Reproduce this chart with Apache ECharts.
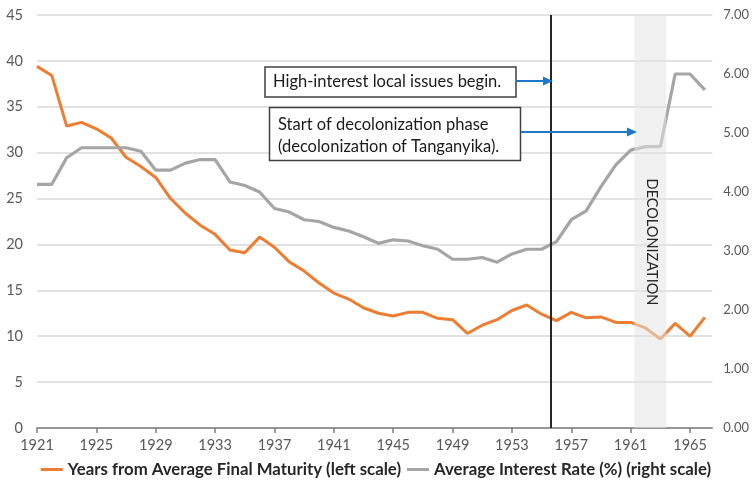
<!DOCTYPE html>
<html><head><meta charset="utf-8">
<script src="https://cdn.jsdelivr.net/npm/echarts@6/dist/echarts.min.js"></script>
<style>html,body{margin:0;padding:0;background:#fff}#c{width:752px;height:485px}</style>
</head><body><div id="c"></div>
<script>
const years = [1921,1922,1923,1924,1925,1926,1927,1928,1929,1930,1931,1932,1933,1934,1935,1936,1937,1938,1939,1940,1941,1942,1943,1944,1945,1946,1947,1948,1949,1950,1951,1952,1953,1954,1955,1956,1957,1958,1959,1960,1961,1962,1963,1964,1965,1966];
const maturity = [39.4,38.4,32.9,33.3,32.6,31.6,29.5,28.5,27.3,25.0,23.4,22.1,21.1,19.4,19.1,20.8,19.7,18.1,17.1,15.8,14.7,14.05,13.1,12.5,12.2,12.6,12.6,11.95,11.8,10.3,11.2,11.8,12.8,13.4,12.4,11.7,12.6,12.0,12.1,11.5,11.5,10.9,9.7,11.4,10.0,12.05];
const interest = [4.13,4.13,4.58,4.75,4.75,4.75,4.75,4.69,4.37,4.37,4.49,4.55,4.55,4.17,4.11,4.00,3.72,3.66,3.53,3.50,3.40,3.34,3.24,3.13,3.19,3.17,3.09,3.03,2.86,2.86,2.89,2.81,2.95,3.03,3.03,3.16,3.53,3.68,4.09,4.46,4.71,4.77,4.77,6.00,6.00,5.73];
const seriesNames = ['Years from Average Final Maturity (left scale)','Average Interest Rate (%) (right scale)'];
const baseYear = 1921;
const highInterestYear = 1955.63;
const decolStart = 1961.25, decolEnd = 1963.4;

const F = 'Lato, "Open Sans", sans-serif';
const matData = years.map((y,i)=>[y-baseYear, maturity[i]]);
const intData = years.map((y,i)=>[y-baseYear, interest[i]]);

const chart = echarts.init(document.getElementById('c'));
chart.setOption({
  animation:false,
  textStyle:{fontFamily:F},
  grid:{left:37,right:38,top:15,bottom:57,containLabel:false},
  legend:{
    data:seriesNames, bottom:2, left:'center', icon:'rect', itemWidth:22, itemHeight:3, itemGap:6,
    textStyle:{fontFamily:F,fontSize:16.8,fontWeight:'bold',color:'#262626'}
  },
  xAxis:{
    type:'value', min:0, max:45.5, interval:4,
    axisLine:{show:true,lineStyle:{color:'#7f7f7f',width:1.5}},
    axisTick:{show:true,length:5,lineStyle:{color:'#7f7f7f',width:1.5}},
    splitLine:{show:false},
    axisLabel:{formatter:v=>String(v+baseYear),showMaxLabel:false,color:'#595959',fontSize:14.5,margin:10,fontFamily:F}
  },
  yAxis:[
    {type:'value',min:0,max:45,interval:5,
     axisLine:{show:false},axisTick:{show:false},
     splitLine:{lineStyle:{color:'#d9d9d9',width:1.5}},
     axisLabel:{color:'#595959',fontSize:14.5,margin:14,fontFamily:F}},
    {type:'value',min:0,max:7,interval:1,position:'right',
     axisLine:{show:false},axisTick:{show:false},splitLine:{show:false},
     axisLabel:{color:'#595959',fontSize:13,margin:11,formatter:v=>v.toFixed(2),fontFamily:F}}
  ],
  series:[
    {name:seriesNames[0],type:'line',yAxisIndex:0,data:matData,symbol:'none',
     lineStyle:{color:'#ED7D31',width:3},itemStyle:{color:'#ED7D31'},z:2},
    {name:seriesNames[1],type:'line',yAxisIndex:1,data:intData,symbol:'none',
     lineStyle:{color:'#A5A5A5',width:3.2},itemStyle:{color:'#A5A5A5'},z:3},
    {name:'marker',type:'line',yAxisIndex:0,data:[],z:5,silent:true,
     markLine:{silent:true,symbol:'none',label:{show:false},
       lineStyle:{color:'#262626',width:2,type:'solid'},
       data:[{xAxis:highInterestYear-baseYear}]}}
  ]
});

const x0 = chart.convertToPixel({xAxisIndex:0}, decolStart-baseYear);
const x1 = chart.convertToPixel({xAxisIndex:0}, decolEnd-baseYear);
const yTop = chart.convertToPixel({yAxisIndex:0}, 45);
const yBot = chart.convertToPixel({yAxisIndex:0}, 0);

chart.setOption({
  graphic:[
    {type:'rect',shape:{x:x0,y:yTop,width:x1-x0,height:yBot-yTop},style:{fill:'rgba(228,228,228,0.55)'},z:5,silent:true},
    {type:'rect',shape:{x:265,y:67,width:251,height:30},style:{fill:'#fff',stroke:'#404040',lineWidth:1.5},z:10},
    {type:'text',x:273,y:82,style:{text:'High-interest local issues begin.',font:'16.5px '+F,fill:'#1a1a1a',verticalAlign:'middle'},z:11},
    {type:'rect',shape:{x:269.5,y:107.5,width:251,height:53},style:{fill:'#fff',stroke:'#404040',lineWidth:1.5},z:10},
    {type:'text',x:278,y:125,style:{text:'Start of decolonization phase',font:'16.5px '+F,fill:'#1a1a1a',verticalAlign:'middle'},z:11},
    {type:'text',x:278,y:146.5,style:{text:'(decolonization of Tanganyika).',font:'16.5px '+F,fill:'#1a1a1a',verticalAlign:'middle'},z:11},
    {type:'line',shape:{x1:516,y1:81,x2:545,y2:81},style:{stroke:'#1f78c8',lineWidth:2},z:10},
    {type:'polygon',shape:{points:[[543,76.5],[553,81],[543,85.5]]},style:{fill:'#1f78c8'},z:10},
    {type:'line',shape:{x1:521,y1:132,x2:629,y2:132},style:{stroke:'#1f78c8',lineWidth:2},z:10},
    {type:'polygon',shape:{points:[[627,127.5],[637,132],[627,136.5]]},style:{fill:'#1f78c8'},z:10},
    {type:'text',x:651.5,y:242,rotation:-Math.PI/2,
     style:{text:'DECOLONIZATION',font:'14.5px '+F,fill:'#262626',align:'center',verticalAlign:'middle'},z:11}
  ]
});
</script></body></html>
